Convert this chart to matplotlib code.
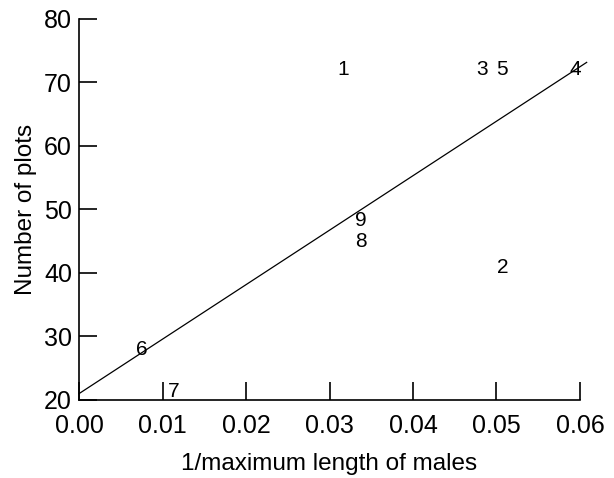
import numpy as np
import matplotlib
matplotlib.use('Agg')
import matplotlib.pyplot as plt

plt.rcParams['font.family'] = ['Liberation Sans', 'DejaVu Sans']

# plot labels placed at (1/max length, number of plots)
site_ids = ['1', '2', '3', '4', '5', '6', '7', '8', '9']
inv_length = [0.0316, 0.0507, 0.0483, 0.0595, 0.0507, 0.0075, 0.0113, 0.0338, 0.0338]
n_plots = [72.0, 40.8, 72.0, 72.0, 72.0, 28.0, 21.3, 44.9, 48.3]

# fitted line
fit_intercept = 21.0
fit_slope = 858.0
fit_x = [0.0, 0.0608]

xticks = [0.00, 0.01, 0.02, 0.03, 0.04, 0.05, 0.06]
yticks = [20, 30, 40, 50, 60, 70, 80]

fig = plt.figure(figsize=(6.14, 4.78), dpi=100)
ax = fig.add_axes([0.1287, 0.1632, 0.8159, 0.7971])

for lab, x, y in zip(site_ids, inv_length, n_plots):
    ax.text(x, y, lab, ha='center', va='center', fontsize=15)

fx = np.array(fit_x)
ax.plot(fx, fit_intercept + fit_slope * fx, color='black', lw=0.9, clip_on=False)

ax.set_xlim(0, 0.06)
ax.set_ylim(20, 80)
ax.set_xticks(xticks)
ax.set_xticklabels(['%.2f' % v for v in xticks])
ax.set_yticks(yticks)
ax.spines['top'].set_visible(False)
ax.spines['right'].set_visible(False)
for s in ['left', 'bottom']:
    ax.spines[s].set_linewidth(1.2)
ax.tick_params(direction='in', length=13, width=1.2, labelsize=18)
ax.tick_params(axis='x', pad=10)
ax.tick_params(axis='y', pad=5)
ax.set_xlabel('1/maximum length of males', fontsize=17.5, labelpad=11)
ax.set_ylabel('Number of plots', fontsize=17.5, labelpad=5)

fig.savefig('out.png', dpi=100)
